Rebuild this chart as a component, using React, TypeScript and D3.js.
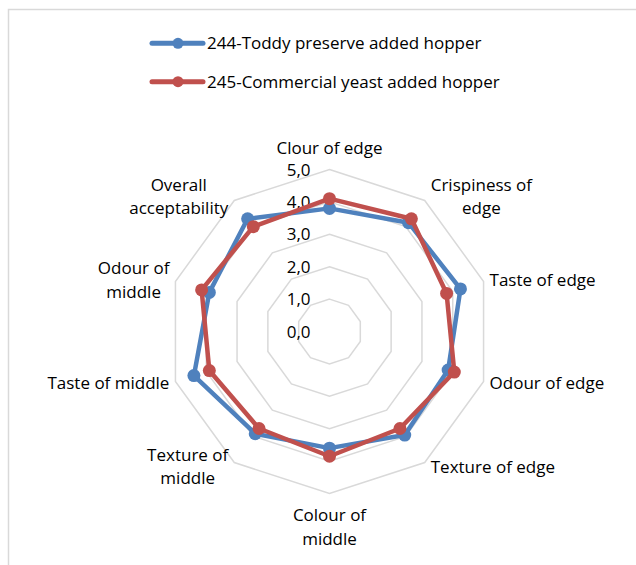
import { useEffect, useRef } from 'react';
import * as d3 from 'd3';

const categories = [
  'Clour of edge',
  'Crispiness of edge',
  'Taste of edge',
  'Odour of edge',
  'Texture of edge',
  'Colour of middle',
  'Texture of middle',
  'Taste of middle',
  'Odour of middle',
  'Overall acceptability',
];

// how each axis label is broken into lines
const labelLines = [
  ['Clour of edge'],
  ['Crispiness of', 'edge'],
  ['Taste of edge'],
  ['Odour of edge'],
  ['Texture of edge'],
  ['Colour of', 'middle'],
  ['Texture of', 'middle'],
  ['Taste of middle'],
  ['Odour of', 'middle'],
  ['Overall', 'acceptability'],
];

const toddyValues = [3.8, 4.15, 4.25, 3.85, 3.95, 3.6, 3.9, 4.4, 3.9, 4.3];
const yeastValues = [4.1, 4.3, 3.8, 4.05, 3.7, 3.85, 3.7, 3.9, 4.15, 4.0];

const seriesNames = ['244-Toddy preserve added hopper', '245-Commercial yeast added hopper'];
const seriesColors = ['#4F81BD', '#C0504D'];

const tickValues = [0, 1, 2, 3, 4, 5];
const tickLabels = ['0,0', '1,0', '2,0', '3,0', '4,0', '5,0'];

const W = 636;
const H = 565;
const FONT = "'Open Sans', sans-serif";

export default function App() {
  const ref = useRef<SVGSVGElement | null>(null);

  useEffect(() => {
    const svg = d3.select(ref.current);
    svg.selectAll('*').remove();

    const cx = 329.5;
    const cy = 331.5;
    const R = 162;

    const r = d3.scaleLinear().domain([0, 5]).range([0, R]);
    const angle = d3.scaleLinear().domain([0, categories.length]).range([0, 2 * Math.PI]);

    const pt = (i: number, v: number): [number, number] => {
      const a = angle(i);
      return [cx + r(v) * Math.sin(a), cy - r(v) * Math.cos(a)];
    };
    const closed = d3.line().curve(d3.curveLinearClosed);

    // frame
    svg.append('rect')
      .attr('x', 8.5)
      .attr('y', 9.5)
      .attr('width', 700)
      .attr('height', 700)
      .attr('fill', 'white')
      .attr('stroke', '#d9d9d9')
      .attr('stroke-width', 1.5);

    const g = svg.append('g');

    // grid rings
    tickValues.filter(t => t > 0).forEach(t => {
      g.append('path')
        .attr('d', closed(categories.map((_, i) => pt(i, t))))
        .attr('fill', 'none')
        .attr('stroke', '#d9d9d9')
        .attr('stroke-width', 1.5);
    });

    // tick labels
    g.selectAll('text.tick')
      .data(tickValues)
      .enter()
      .append('text')
      .attr('class', 'tick')
      .attr('x', cx - 19)
      .attr('y', d => cy - r(d))
      .attr('dy', '0.36em')
      .attr('text-anchor', 'end')
      .attr('font-family', FONT)
      .attr('font-size', 17)
      .attr('fill', '#000')
      .text((_, i) => tickLabels[i]);

    // axis labels
    const lh = 23.5;
    labelLines.forEach((lines, i) => {
      const a = angle(i);
      const s = Math.sin(a);
      const c = Math.cos(a);
      const [vx, vy] = pt(i, 5);
      const txt = g.append('text')
        .attr('font-family', FONT)
        .attr('font-size', 17)
        .attr('fill', '#000');
      const n = lines.length;
      let blockCenterY: number;
      if (Math.abs(s) < 0.1) {
        blockCenterY = c > 0 ? vy - 10 - (n * lh) / 2 : vy + 10 + (n * lh) / 2;
      } else {
        blockCenterY = vy - 5 * c;
      }
      const spans = txt.selectAll('tspan')
        .data(lines)
        .enter()
        .append('tspan')
        .attr('y', (_, k) => blockCenterY + (k - (n - 1) / 2) * lh)
        .attr('dy', '0.36em')
        .text(d => d);

      if (Math.abs(s) < 0.1) {
        spans.attr('x', vx).attr('text-anchor', 'middle');
      } else {
        // measure widest line so multi-line labels are centred in their block
        spans.attr('x', 0).attr('text-anchor', 'start');
        const widths: number[] = [];
        spans.each(function () {
          widths.push((this as SVGTSpanElement).getComputedTextLength());
        });
        const maxW = d3.max(widths) || 0;
        const left = s > 0 ? vx + 6 : vx - 6 - maxW;
        spans.attr('x', left + maxW / 2).attr('text-anchor', 'middle');
      }
    });

    // series
    const seriesData = [toddyValues, yeastValues];
    seriesData.forEach((vals, si) => {
      const pts = vals.map((v, i) => pt(i, v));
      g.append('path')
        .attr('d', closed(pts))
        .attr('fill', 'none')
        .attr('stroke', seriesColors[si])
        .attr('stroke-width', 4.5)
        .attr('stroke-linejoin', 'round');
      g.selectAll(`circle.s${si}`)
        .data(pts)
        .enter()
        .append('circle')
        .attr('class', `s${si}`)
        .attr('cx', d => d[0])
        .attr('cy', d => d[1])
        .attr('r', 6.5)
        .attr('fill', seriesColors[si]);
    });

    // legend
    const legendY = d3.scalePoint<string>().domain(seriesNames).range([43.3, 81.7]);
    seriesNames.forEach((name, si) => {
      const y = legendY(name) as number;
      const lg = svg.append('g');
      lg.append('line')
        .attr('x1', 152)
        .attr('x2', 203)
        .attr('y1', y)
        .attr('y2', y)
        .attr('stroke', seriesColors[si])
        .attr('stroke-width', 5)
        .attr('stroke-linecap', 'round');
      lg.append('circle')
        .attr('cx', 178)
        .attr('cy', y)
        .attr('r', 5.5)
        .attr('fill', seriesColors[si]);
      lg.append('text')
        .attr('x', 207)
        .attr('y', y)
        .attr('dy', '0.36em')
        .attr('font-family', FONT)
        .attr('font-size', 17)
        .attr('fill', '#000')
        .text(name);
    });
  }, []);

  return (
    <svg
      ref={ref}
      width={W}
      height={H}
      style={{ position: 'absolute', left: 0, top: 0, background: 'white' }}
    />
  );
}
